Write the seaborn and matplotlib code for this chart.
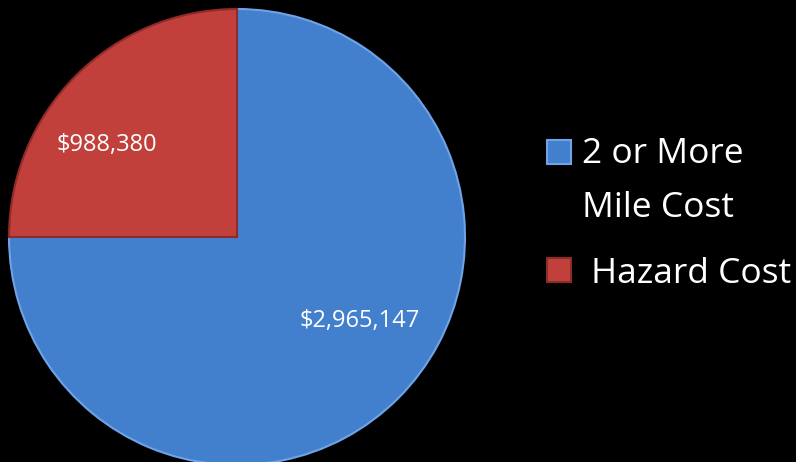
import matplotlib
matplotlib.use("Agg")
import matplotlib.pyplot as plt
import seaborn as sns
from matplotlib.patches import Rectangle

categories = ["2 or More\nMile Cost", "Hazard Cost"]
values = [2965147, 988380]
value_labels = ["$2,965,147", "$988,380"]
colors = ["#4280CE", "#C2403C"]
edge_colors = ["#6FA3E6", "#8E2A28"]

sns.set_theme(style="dark")
plt.rcParams["font.family"] = ["Open Sans", "DejaVu Sans"]

W, H = 796, 462
fig = plt.figure(figsize=(W / 100, H / 100), dpi=100, facecolor="black")
cx, cy, r = 237, 237, 228
ax = fig.add_axes([(cx - r) / W, (H - cy - r) / H, 2 * r / W, 2 * r / H])
ax.set_facecolor("black")

wedges, _ = ax.pie(values, colors=colors, startangle=90, counterclock=False,
                   radius=1.0, wedgeprops=dict(linewidth=1.5))
for w, ec in zip(wedges, edge_colors):
    w.set_edgecolor(ec)
ax.set_xlim(-1, 1)
ax.set_ylim(-1, 1)
ax.axis("off")

# value labels (pixel positions converted to data coords)
label_pos = [(360, 321), (107, 145)]
for (px, py), txt in zip(label_pos, value_labels):
    ax.text((px - cx) / r, (cy - py) / r, txt, color="white", fontsize=17,
            ha="center", va="center")

# legend
leg_items = [(547, 140, 0), (547, 258, 1)]
text_x = [582, 591]
first_baseline = [163, 283]
line_step = 54
for (px, py, i), tx, by in zip(leg_items, text_x, first_baseline):
    fig.patches.append(Rectangle((px / W, (H - py - 24) / H), 24 / W, 24 / H,
                                 transform=fig.transFigure, facecolor=colors[i],
                                 edgecolor=edge_colors[i], linewidth=1.5))
    for k, line in enumerate(categories[i].split("\n")):
        fig.text(tx / W, (H - by - k * line_step) / H, line,
                 color="white", fontsize=25.5, ha="left", va="baseline")

fig.savefig("out.png", dpi=100, facecolor="black")
